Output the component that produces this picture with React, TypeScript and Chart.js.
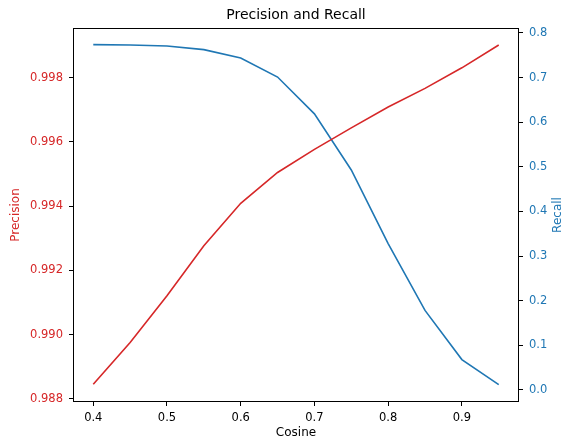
import React, { useEffect, useRef } from "react";
import { Chart, registerables } from "chart.js";

Chart.register(...registerables);

const cosine = [0.4, 0.45, 0.5, 0.55, 0.6, 0.65, 0.7, 0.75, 0.8, 0.85, 0.9, 0.95];
const precision = [0.98845, 0.98975, 0.99121, 0.99277, 0.99409, 0.99505, 0.99577, 0.99644, 0.99709, 0.99767, 0.99831, 0.99902];
const recall = [0.7737, 0.773, 0.7708, 0.7625, 0.7438, 0.7011, 0.6187, 0.4928, 0.3281, 0.1782, 0.0681, 0.0119];
const cosineTicks = [0.4, 0.5, 0.6, 0.7, 0.8, 0.9];
const precisionTicks = [0.988, 0.99, 0.992, 0.994, 0.996, 0.998];
const recallTicks = [0, 0.1, 0.2, 0.3, 0.4, 0.5, 0.6, 0.7, 0.8];

const RED = "#d62728";
const BLUE = "#1f77b4";
const FONT = "'DejaVu Sans'";

const decorPlugin = {
  id: "decor",
  afterDraw(chart: any) {
    const { ctx, chartArea: a } = chart;
    ctx.save();
    ctx.strokeStyle = "#000";
    ctx.lineWidth = 1;
    ctx.strokeRect(a.left + 0.5, a.top + 0.5, a.right - a.left - 1, a.bottom - a.top - 1);
    const cx = (a.left + a.right) / 2;
    const cy = (a.top + a.bottom) / 2;
    ctx.textAlign = "center";
    ctx.textBaseline = "middle";
    ctx.fillStyle = "#000";
    ctx.font = `14px ${FONT}`;
    ctx.fillText("Precision and Recall", cx, 15);
    ctx.font = `12px ${FONT}`;
    ctx.fillText("Cosine", cx, 433);
    ctx.save();
    ctx.translate(16, cy);
    ctx.rotate(-Math.PI / 2);
    ctx.fillStyle = RED;
    ctx.fillText("Precision", 0, 0);
    ctx.restore();
    ctx.save();
    ctx.translate(558, cy);
    ctx.rotate(-Math.PI / 2);
    ctx.fillStyle = BLUE;
    ctx.fillText("Recall", 0, 0);
    ctx.restore();
    ctx.restore();
  },
};

export default function App() {
  const ref = useRef<HTMLCanvasElement | null>(null);
  useEffect(() => {
    document.body.style.margin = "0";
    const canvas = ref.current;
    if (!canvas) return;
    Chart.defaults.font.family = FONT;
    const gridOpts = {
      drawOnChartArea: false,
      drawTicks: true,
      tickLength: 4,
      color: "#000",
      tickColor: "#000",
    };
    const chart = new Chart(canvas, {
      type: "line",
      data: {
        datasets: [
          {
            label: "Precision",
            data: cosine.map((c, i) => ({ x: c, y: precision[i] })),
            borderColor: RED,
            backgroundColor: RED,
            borderWidth: 1.6,
            pointRadius: 0,
            tension: 0,
            yAxisID: "y",
          },
          {
            label: "Recall",
            data: cosine.map((c, i) => ({ x: c, y: recall[i] })),
            borderColor: BLUE,
            backgroundColor: BLUE,
            borderWidth: 1.6,
            pointRadius: 0,
            tension: 0,
            yAxisID: "y1",
          },
        ],
      },
      options: {
        responsive: false,
        animation: false,
        layout: { padding: { top: 28, left: 0, right: 0, bottom: 0 } },
        plugins: {
          legend: { display: false },
          title: { display: false },
          tooltip: { enabled: false },
        },
        scales: {
          x: {
            type: "linear",
            min: 0.3725,
            max: 0.9775,
            grid: gridOpts,
            border: { display: false },
            afterBuildTicks: (s: any) => {
              s.ticks = cosineTicks.map((v) => ({ value: v }));
            },
            afterFit: (s: any) => {
              s.height = 43;
            },
            ticks: {
              color: "#000",
              padding: 5,
              maxRotation: 0,
              font: { size: 11.5 },
              callback: (v: any) => Number(v).toFixed(1),
            },
          },
          y: {
            type: "linear",
            position: "left",
            min: 0.9879,
            max: 0.99955,
            grid: gridOpts,
            border: { display: false },
            afterBuildTicks: (s: any) => {
              s.ticks = precisionTicks.map((v) => ({ value: v }));
            },
            afterFit: (s: any) => {
              s.width = 73;
            },
            ticks: {
              color: RED,
              padding: 6,
              font: { size: 11.5 },
              callback: (v: any) => Number(v).toFixed(3),
            },
          },
          y1: {
            type: "linear",
            position: "right",
            min: -0.027,
            max: 0.811,
            grid: gridOpts,
            border: { display: false },
            afterBuildTicks: (s: any) => {
              s.ticks = recallTicks.map((v) => ({ value: v }));
            },
            afterFit: (s: any) => {
              s.width = 47;
            },
            ticks: {
              color: BLUE,
              padding: 6,
              font: { size: 11.5 },
              callback: (v: any) => Number(v).toFixed(1),
            },
          },
        },
      },
      plugins: [decorPlugin],
    } as any);
    return () => chart.destroy();
  }, []);
  return (
    <div style={{ position: "absolute", left: 0, top: 0, width: 566, height: 445, background: "#fff" }}>
      <canvas ref={ref} width={566} height={445} style={{ display: "block" }} />
    </div>
  );
}
